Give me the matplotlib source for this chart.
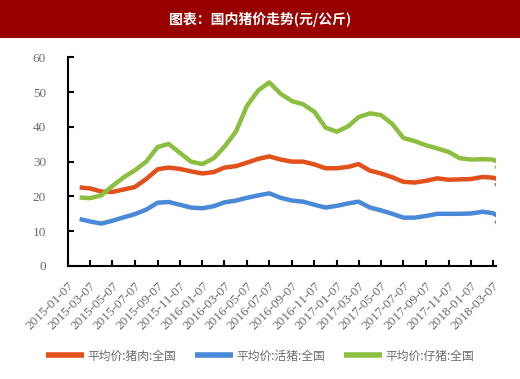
import matplotlib
matplotlib.use('Agg')
import matplotlib.pyplot as plt
import matplotlib.dates as mdates
import pandas as pd

# monthly readings (7th of each month) plus the last weekly point
dates = list(pd.date_range('2015-01-07', periods=39, freq='MS') + pd.Timedelta(days=6)) + [pd.Timestamp('2018-03-14')]

pork = [22.6, 22.3, 21.4, 21.3, 22.0, 22.7, 25.0, 27.8, 28.3, 27.9,
        27.2, 26.6, 27.0, 28.3, 28.7, 29.7, 30.8, 31.5, 30.6, 30.0,
        30.0, 29.2, 28.1, 28.1, 28.5, 29.3, 27.4, 26.6, 25.5, 24.2,
        24.0, 24.5, 25.2, 24.8, 24.9, 25.0, 25.6, 25.4, 24.5, 23.1]
hog = [13.5, 12.8, 12.2, 13.0, 14.0, 14.9, 16.2, 18.2, 18.4, 17.6,
       16.8, 16.6, 17.2, 18.3, 18.8, 19.6, 20.3, 20.9, 19.6, 18.8,
       18.5, 17.6, 16.8, 17.3, 18.0, 18.5, 16.8, 16.0, 15.0, 13.9,
       13.9, 14.4, 15.0, 15.0, 15.0, 15.1, 15.6, 15.2, 13.5, 12.3]
piglet = [19.7, 19.5, 20.3, 23.0, 25.5, 27.5, 30.0, 34.2, 35.1, 32.5,
          30.0, 29.3, 31.0, 34.3, 38.6, 46.0, 50.5, 52.8, 49.5, 47.4,
          46.5, 44.3, 39.8, 38.6, 40.2, 42.8, 43.9, 43.4, 40.8, 36.8,
          35.9, 34.7, 33.8, 32.8, 31.0, 30.6, 30.7, 30.6, 29.3, 28.1]

labels = ['平均价:猪肉:全国', '平均价:活猪:全国', '平均价:仔猪:全国']
colors = ['#E2501C', '#4A88D8', '#8CBF3F']
tick_dates = pd.date_range('2015-01-01', '2018-03-01', freq='2MS') + pd.Timedelta(days=6)

fig = plt.figure(figsize=(5.2, 3.79), dpi=100)

# title bar
fig.patches.append(plt.Rectangle((0, 1 - 38 / 379), 1, 38 / 379, transform=fig.transFigure,
                                 facecolor='#990000', edgecolor='none'))
fig.text(0.5, 1 - 19 / 379, '图表：国内猪价走势(元/公斤)', ha='center', va='center',
         color='white', fontsize=10, fontweight='bold', family=['Noto Sans CJK SC', 'DejaVu Sans'])

ax = fig.add_axes([68.3 / 520, 1 - 266 / 379, (496 - 68.3) / 520, (266 - 57.3) / 379])
for series, lab, c in zip([pork, hog, piglet], labels, colors):
    ax.plot(dates, series, color=c, lw=3.2, label=lab, solid_capstyle='butt')

ax.set_ylim(0, 60)
ax.set_yticks(range(0, 61, 10))
ax.set_xlim(pd.Timestamp('2015-01-07'), pd.Timestamp('2018-03-16'))
ax.set_xticks(tick_dates)
ax.xaxis.set_major_formatter(mdates.DateFormatter('%Y-%m-%d'))

for s in ['top', 'right']:
    ax.spines[s].set_visible(False)
for s in ['left', 'bottom']:
    ax.spines[s].set_linewidth(1.5)
    ax.spines[s].set_color('black')

ax.tick_params(axis='y', direction='in', length=4, width=1.5, pad=16,
               labelsize=9.5, labelcolor='#6b6b6b')
ax.tick_params(axis='x', direction='in', length=4, width=1.5, pad=10,
               labelsize=9.5, labelcolor='#6b6b6b')
for t in ax.get_yticklabels() + ax.get_xticklabels():
    t.set_family('Liberation Serif')
for t in ax.get_xticklabels():
    t.set_rotation(45)
    t.set_ha('right')
    t.set_va('top')
    t.set_rotation_mode('anchor')

leg = fig.legend(loc='center', bbox_to_anchor=(0.5, 1 - 356 / 379), ncol=3, frameon=False,
                 prop={'family': ['Noto Sans CJK SC', 'DejaVu Sans'], 'size': 8.5},
                 handlelength=3.2, handletextpad=0.3, columnspacing=1.6)
for line in leg.get_lines():
    line.set_linewidth(4)
for t in leg.get_texts():
    t.set_color('#6b6b6b')

fig.savefig('out.png', dpi=100)
